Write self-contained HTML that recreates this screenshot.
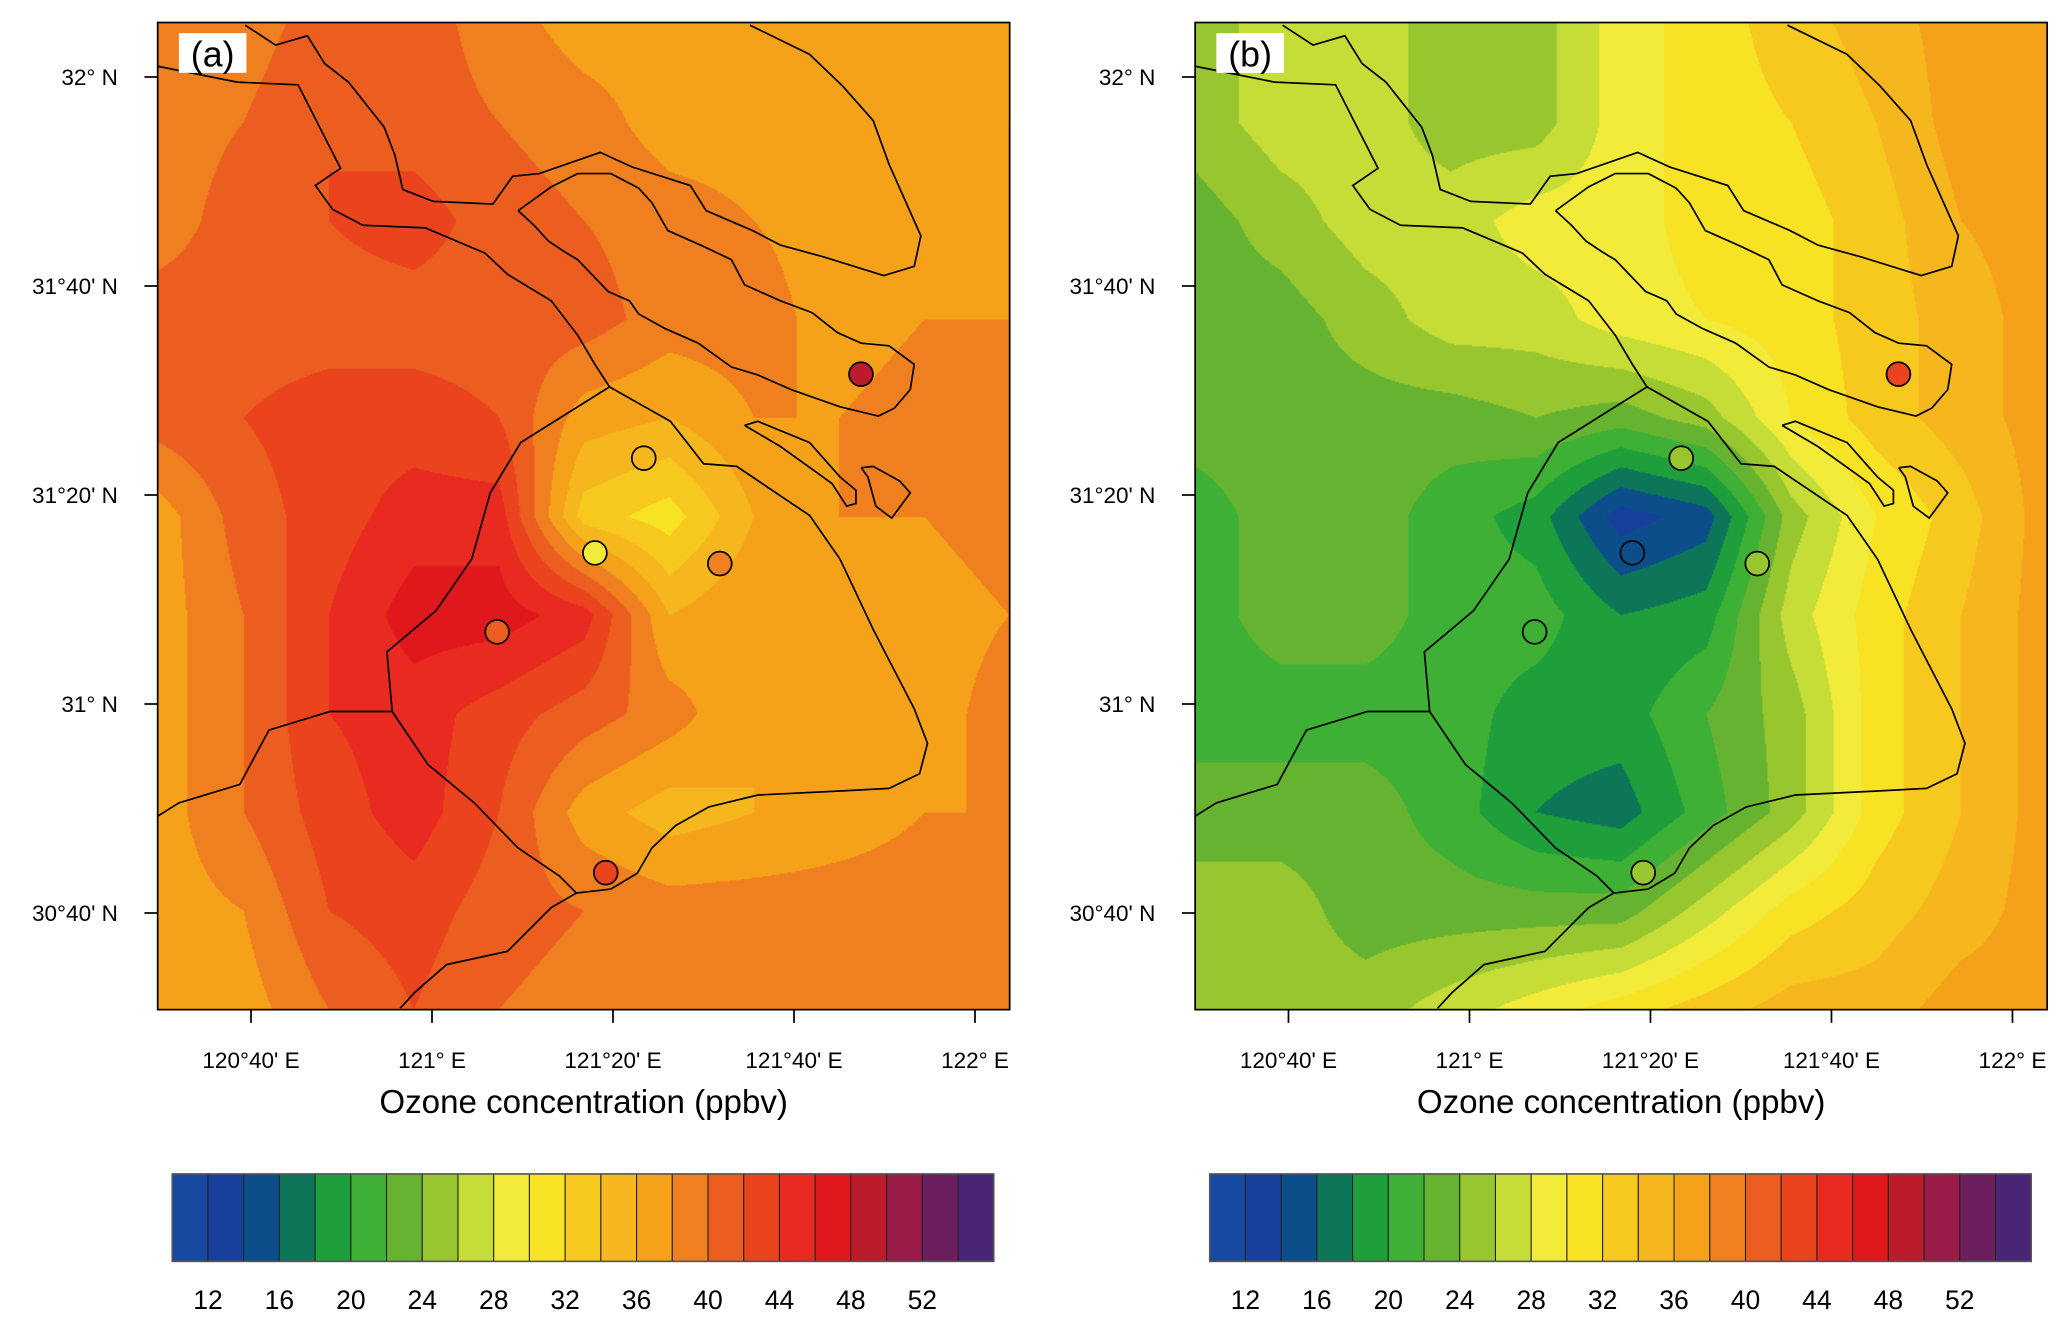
<!DOCTYPE html>
<html><head><meta charset="utf-8"><style>
html,body{margin:0;padding:0;background:#fff;}
#wrap{position:relative;width:2067px;height:1328px;overflow:hidden;font-family:"Liberation Sans",sans-serif;}
canvas{position:absolute;}
svg{position:absolute;left:0;top:0;}
</style></head><body>
<div id="wrap">
<canvas id="ca" width="643" height="745" style="left:157.7px;top:22.5px;width:852px;height:987px"></canvas>
<canvas id="cb" width="643" height="745" style="left:1195.2px;top:22.5px;width:852px;height:987px"></canvas>
<svg id="sv" width="2067" height="1328" viewBox="0 0 2067 1328"><g id="g" transform="scale(1.325)"></g></svg>
</div>
<script>
const binColors=["#1749a0","#173f9b","#0b4e8a","#0d7658","#1f9e3c","#3db035","#66b331","#97c62f","#c6dc37","#f2eb3a","#f8e224","#f7c81e","#f6b61e","#f5a21a","#ef7f1f","#eb5e1f","#ea431d","#e82a20","#e0181c","#bc1b2c","#9a1b48","#6b1f5f","#4a2475"];
const cbLabels=["12","16","20","24","28","32","36","40","44","48","52"];
const lonTicks=["120°40' E","121° E","121°20' E","121°40' E","122° E"];
const latTicks=["32° N","31°40' N","31°20' N","31° N","30°40' N"];
const fieldA=[
[39,39,41,41,39,37,37,37,37,37,37],
[39,40,42,41,40,39,37,37,37,37,38],
[39,41,42,43,41,40,39,38,37,37,38],
[41,41,41,41,41,41,39,39,37,38,38],
[41,42,43,43,42,37,36,38,38,39,39],
[37,41,43,45,45,33,31,36,38,38,39],
[37,40,44,47,47,45,36,38,37,37,38],
[37,40,44,45,43,41,39,36,36,37,39],
[37,40,43,45,42,37,35,36,37,38,38],
[37,38,42,43,41,40,39,39,39,39,39],
[37,37,40,42,40,39,39,39,39,39,39]];
const fieldB=[
[25,27,27,25,25,29,31,33,35,37,37],
[25,27,27,25,25,29,31,32,34,37,37],
[23,25,27,27,29,29,31,31,33,36,37],
[23,23,25,27,27,29,30,31,33,35,37],
[23,23,23,23,24,23,25,30,33,35,37],
[21,23,23,21,19,13,15,25,30,33,37],
[21,23,23,21,21,18,19,27,31,34,37],
[21,21,21,21,19,19,22,25,31,34,37],
[23,23,23,21,18,17,21,25,31,34,37],
[25,25,23,23,23,23,27,31,33,35,37],
[25,25,25,27,29,31,33,35,35,37,37]];
const stationLon=[121.79,121.39,121.30,121.53,121.12,121.32];
const stationLat=[31.526,31.392,31.241,31.224,31.115,30.731];
const stationValA=[48,35,29,39,41,43];
const stationValB=[43,25,15,25,21,25];
function binOf(v){return v<12?0:Math.min(22,Math.floor((v-12)/2)+1);}
function hex(c){return [parseInt(c.slice(1,3),16),parseInt(c.slice(3,5),16),parseInt(c.slice(5,7),16)];}
const rgb=binColors.map(hex);
function drawField(id,F){
 const cv=document.getElementById(id),ctx=cv.getContext('2d');
 const W=643,H=745,img=ctx.createImageData(W,H),n=F.length-1,m=F[0].length-1;
 for(let y=0;y<H;y++){const fy=y/(H-1)*n,j=Math.min(n-1,Math.floor(fy)),ty=fy-j;
  for(let x=0;x<W;x++){const fx=x/(W-1)*m,i=Math.min(m-1,Math.floor(fx)),tx=fx-i;
   const v=(F[j][i]*(1-tx)+F[j][i+1]*tx)*(1-ty)+(F[j+1][i]*(1-tx)+F[j+1][i+1]*tx)*ty;
   const c=rgb[binOf(v)],p=(y*W+x)*4;img.data[p]=c[0];img.data[p+1]=c[1];img.data[p+2]=c[2];img.data[p+3]=255;}}
 ctx.putImageData(img,0,0);}
drawField('ca',fieldA);drawField('cb',fieldB);
const NS="http://www.w3.org/2000/svg",g=document.getElementById('g');
function el(t,a,txt){const e=document.createElementNS(NS,t);for(const k in a)e.setAttribute(k,a[k]);if(txt!==undefined)e.textContent=txt;g.appendChild(e);return e;}
function xOf(lon,off){return 432/1.325+(lon-121)*3*(181/1.325)+off;}
function yOf(lat){return 704/1.325-(lat-31)*3*(209/1.325);}
const coast=[
[[119,50],[179,62],[225,64],[257,127],[238,140],[251,158],[274,170],[321,172],[366,191],[383,207],[416,227],[436,253],[449,275],[460,292]],
[[185,19],[208,34],[232,27],[245,48],[263,62],[290,96],[298,117],[304,143],[327,152],[372,154],[387,133],[407,131],[453,115],[477,126],[521,140],[533,159],[568,174],[589,185],[622,194],[667,208],[690,201],[695,178],[671,124],[659,91],[636,65],[611,41],[566,19]],
[[391,159],[416,141],[436,131],[461,131],[482,142],[492,153],[504,174],[531,186],[552,196],[562,215],[589,227],[613,236],[632,251],[650,259],[671,261],[690,275],[687,294],[675,308],[663,314],[634,307],[597,294],[572,283],[552,277],[527,259],[502,248],[482,237],[475,227],[459,220],[436,196],[426,190],[414,182],[403,170],[391,159]],
[[562,321],[572,318],[611,334],[634,360],[646,370],[646,380],[639,382],[628,365],[617,357],[589,337],[562,321]],
[[650,353],[659,352],[679,363],[687,372],[673,391],[661,382],[655,360],[650,353]],
[[460,292],[506,318],[531,350],[556,352],[611,389],[634,422],[659,475],[690,535],[700,561],[694,584],[671,595],[634,597],[572,600],[535,609],[510,623],[492,640],[481,659],[461,671],[435,674],[416,685],[383,718],[337,728],[313,749],[302,761]],
[[460,292],[393,334],[370,372],[356,422],[329,461],[292,492],[296,537],[323,577],[358,606],[391,640],[422,661],[435,674]],
[[296,537],[249,537],[203,551],[181,592],[135,606],[119,616]]];
[['a',0,stationValA],['b',783,stationValB]].forEach(([nm,off,sv])=>{
 const L=119+off,R=762+off,T=17,B=762;
 const cp=document.createElementNS(NS,'clipPath');cp.setAttribute('id','clip'+nm);const cr=document.createElementNS(NS,'rect');
 cr.setAttribute('x',L);cr.setAttribute('y',T);cr.setAttribute('width',R-L);cr.setAttribute('height',B-T);cp.appendChild(cr);g.appendChild(cp);
 coast.forEach((ln,k)=>{const p=el('polyline',{points:ln.map(q=>(q[0]+off)+','+q[1]).join(' '),fill:'none',stroke:'#000','stroke-width':1.3,'clip-path':'url(#clip'+nm+')'});
  });
 stationLon.forEach((lo,i)=>{const c=el('circle',{cx:xOf(lo,off),cy:yOf(stationLat[i]),r:9,fill:binColors[binOf(sv[i])],stroke:'#000','stroke-width':1.3});
  });
 const fr=el('rect',{x:L,y:T,width:R-L,height:B-T,fill:'none',stroke:'#000','stroke-width':1.3});
 
 const lb=el('rect',{x:135+off,y:25,width:51,height:30,fill:'#fff'});
 const lt=el('text',{x:160.5+off,y:50,'font-size':27,'text-anchor':'middle'},'('+nm+')');
 
 lonTicks.forEach((t,i)=>{const lon=120+2/3+i/3,x=xOf(lon,off);
  const tk=el('line',{x1:x,y1:B,x2:x,y2:B+10,stroke:'#000','stroke-width':1.3});
  const tx=el('text',{x:x,y:B+44,'font-size':17,'text-anchor':'middle'},t);});
 latTicks.forEach((t,i)=>{const lat=32-i/3,y=yOf(lat);
  const tk=el('line',{x1:L-10,y1:y,x2:L,y2:y,stroke:'#000','stroke-width':1.3});
  const tx=el('text',{x:L-30,y:y+6,'font-size':17,'text-anchor':'end'},t);});
 const at=el('text',{x:(L+R)/2,y:840,'font-size':25,'text-anchor':'middle'},'Ozone concentration (ppbv)');
 
 const cx0=130+off,cw=620/23;
 binColors.forEach((c,k)=>{const r=el('rect',{x:cx0+k*cw,y:886,width:cw,height:66,fill:c,stroke:'#222','stroke-width':0.8});
  });
 const cf=el('rect',{x:cx0,y:886,width:620,height:66,fill:'none',stroke:'#555','stroke-width':1.2});
 cbLabels.forEach((t,i)=>{const tx=el('text',{x:cx0+(1+2*i)*cw,y:988,'font-size':20,'text-anchor':'middle'},t);
  });
});
</script>
</body></html>
